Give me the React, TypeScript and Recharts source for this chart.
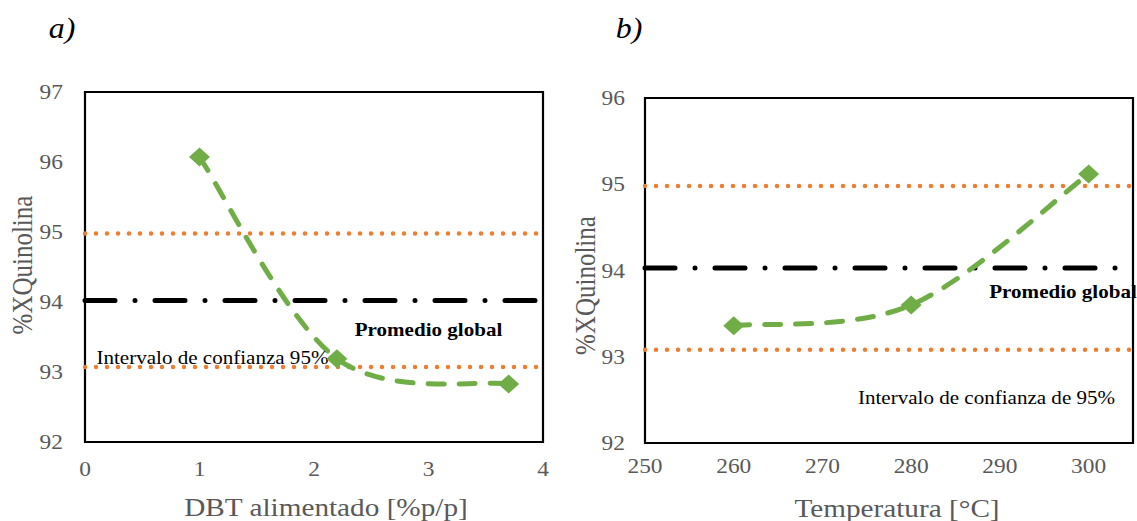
import React from 'react';
import { LineChart, Line, XAxis, YAxis, ReferenceLine, ReferenceArea, ReferenceDot } from 'recharts';

// ---- Data ----
const dbtFeed = [1.0, 2.2, 3.7];
const conversionA = [96.07, 93.19, 92.83];
const temperatures = [260, 280, 300];
const conversionB = [93.36, 93.6, 95.12];

const xDomainA = [0, 4];
const yDomainA = [92, 97];
const xDomainB = [250, 305];
const yDomainB = [92, 96];
const xTicksA = [0, 1, 2, 3, 4];
const yTicksA = [92, 93, 94, 95, 96, 97];
const xTicksB = [250, 260, 270, 280, 290, 300];
const yTicksB = [92, 93, 94, 95, 96];

const meanA = 94.02;
const ciA = [93.07, 94.98];
const meanB = 94.03;
const ciB = [93.08, 94.98];

const meanTextA = 'Promedio global';
const meanLabelPosA = [3.0, 93.6];
const ciTextA = 'Intervalo de confianza 95%';
const ciLabelPosA = [0.1, 93.2];
const meanTextB = 'Promedio global';
const meanLabelPosB = [288.8, 93.75];
const ciTextB = 'Intervalo de confianza  de 95%';
const ciLabelPosB = [274.0, 92.52];

const dataA = dbtFeed.map((x, i) => ({ x, y: conversionA[i] }));
const dataB = temperatures.map((x, i) => ({ x, y: conversionB[i] }));

// ---- Styles ----
const FONT = "'Liberation Serif', 'Times New Roman', serif";
const GRAY = '#595959';
const ORANGE = '#ED7D31';
const GREEN = '#70AD47';
const SX = 1.17;

// Excel-like smoothed line (Catmull-Rom style Bezier)
function excelCurve(context: any) {
  let pts: number[][] = [];
  return {
    areaStart() {},
    areaEnd() {},
    lineStart() {
      pts = [];
    },
    point(x: number, y: number) {
      pts.push([+x, +y]);
    },
    lineEnd() {
      const n = pts.length;
      if (n === 0) return;
      context.moveTo(pts[0][0], pts[0][1]);
      for (let i = 0; i < n - 1; i++) {
        const p0 = pts[i - 1] || pts[i];
        const p1 = pts[i];
        const p2 = pts[i + 1];
        const p3 = pts[i + 2] || pts[i + 1];
        const c1x = p1[0] + (p2[0] - p0[0]) / 6;
        const c1y = p1[1] + (p2[1] - p0[1]) / 6;
        const c2x = p2[0] - (p3[0] - p1[0]) / 6;
        const c2y = p2[1] - (p3[1] - p1[1]) / 6;
        context.bezierCurveTo(c1x, c1y, c2x, c2y, p2[0], p2[1]);
      }
    },
  };
}

function SText(props: any) {
  const { x, y, anchor = 'middle', dy = '0.35em', size = 20, weight = 'normal', fill = '#000', rotate = false, children } = props;
  const t = `translate(${x},${y}) scale(${SX},1)` + (rotate ? ' rotate(-90)' : '');
  return (
    <text transform={t} x={0} y={0} dy={dy} textAnchor={anchor} fontFamily={FONT} fontSize={size} fontWeight={weight} fill={fill}>
      {children}
    </text>
  );
}

const yTick = (p: any) => (
  <SText x={p.x} y={p.y} anchor="end" dy="0.35em" size={20} fill={GRAY}>
    {p.payload.value}
  </SText>
);
const xTick = (p: any) => (
  <SText x={p.x} y={p.y} anchor="middle" dy="0.71em" size={20} fill={GRAY}>
    {p.payload.value}
  </SText>
);

const Diamond = (p: any) => {
  const { cx, cy, index } = p;
  if (cx == null || cy == null) return null;
  const rx = 10.5;
  const ry = 9.5;
  return <path key={`d-${index}`} d={`M${cx},${cy - ry}L${cx + rx},${cy}L${cx},${cy + ry}L${cx - rx},${cy}Z`} fill={GREEN} />;
};

const xTitle = (text: string, dx: number, dyy: number) => (p: any) => {
  const vb = p.viewBox || {};
  return (
    <SText x={vb.x + vb.width / 2 + dx} y={vb.y + dyy} size={25} fill={GRAY}>
      {text}
    </SText>
  );
};

const yTitle = (text: string, xo: number, dyc: number) => (p: any) => {
  const vb = p.viewBox || {};
  return (
    <SText x={vb.x + xo} y={vb.y + vb.height / 2 + dyc} size={25} fill={GRAY} rotate>
      {text}
    </SText>
  );
};

const annot = (text: string, bold: boolean, anchor: string) => (p: any) => (
  <SText x={p.cx} y={p.cy} anchor={anchor} size={18} weight={bold ? 'bold' : 'normal'} fill="#000">
    {text}
  </SText>
);

const meanLine = { stroke: '#000', strokeWidth: 5, strokeDasharray: '30 20 0 20', strokeLinecap: 'round' as const };
const ciLine = { stroke: ORANGE, strokeWidth: 4.5, strokeDasharray: '0 11', strokeLinecap: 'round' as const };

function ChartA() {
  return (
    <LineChart width={560} height={521} data={dataA} margin={{ top: 92, right: 17, bottom: 0, left: 0 }}>
      <XAxis
        type="number"
        dataKey="x"
        domain={xDomainA}
        ticks={xTicksA}
        axisLine={false}
        tickLine={false}
        tickSize={0}
        tickMargin={20}
        height={79}
        tick={xTick}
        interval={0}
        label={{ content: xTitle('DBT alimentado [%p/p]', 12, 65) }}
      />
      <YAxis
        type="number"
        domain={yDomainA}
        ticks={yTicksA}
        axisLine={false}
        tickLine={false}
        tickSize={0}
        tickMargin={22}
        width={85}
        tick={yTick}
        interval={0}
        label={{ content: yTitle('%XQuinolina', 22, -2) }}
      />
      <ReferenceLine y={ciA[1]} {...ciLine} />
      <ReferenceLine y={ciA[0]} {...ciLine} />
      <ReferenceLine y={meanA} {...meanLine} />
      <ReferenceDot x={meanLabelPosA[0]} y={meanLabelPosA[1]} r={0} ifOverflow="visible" shape={annot(meanTextA, true, 'middle')} />
      <ReferenceDot x={ciLabelPosA[0]} y={ciLabelPosA[1]} r={0} ifOverflow="visible" shape={annot(ciTextA, false, 'start')} />
      <Line
        type={excelCurve as any}
        dataKey="y"
        stroke={GREEN}
        strokeWidth={5}
        strokeDasharray="16 15"
        strokeLinecap="round"
        dot={Diamond}
        activeDot={false}
        isAnimationActive={false}
      />
      <ReferenceArea
        x1={xDomainA[0]}
        x2={xDomainA[1]}
        y1={yDomainA[0]}
        y2={yDomainA[1]}
        fill="none"
        fillOpacity={0}
        stroke="#000"
        strokeWidth={2.2}
        strokeOpacity={1}
        ifOverflow="visible"
      />
    </LineChart>
  );
}

function ChartB() {
  return (
    <LineChart width={577} height={521} data={dataB} margin={{ top: 98, right: 4, bottom: 0, left: 0 }}>
      <XAxis
        type="number"
        dataKey="x"
        domain={xDomainB}
        ticks={xTicksB}
        axisLine={false}
        tickLine={false}
        tickSize={0}
        tickMargin={16}
        height={78}
        tick={xTick}
        interval={0}
        allowDataOverflow
        label={{ content: xTitle('Temperatura [°C]', 8, 65) }}
      />
      <YAxis
        type="number"
        domain={yDomainB}
        ticks={yTicksB}
        axisLine={false}
        tickLine={false}
        tickSize={0}
        tickMargin={20}
        width={85}
        tick={yTick}
        interval={0}
        label={{ content: yTitle('%XQuinolina', 25, 15) }}
      />
      <ReferenceLine y={ciB[1]} {...ciLine} />
      <ReferenceLine y={ciB[0]} {...ciLine} />
      <ReferenceLine y={meanB} {...meanLine} />
      <ReferenceDot x={meanLabelPosB[0]} y={meanLabelPosB[1]} r={0} ifOverflow="visible" shape={annot(meanTextB, true, 'start')} />
      <ReferenceDot x={ciLabelPosB[0]} y={ciLabelPosB[1]} r={0} ifOverflow="visible" shape={annot(ciTextB, false, 'start')} />
      <Line
        type={excelCurve as any}
        dataKey="y"
        stroke={GREEN}
        strokeWidth={5}
        strokeDasharray="16 15"
        strokeLinecap="round"
        dot={Diamond}
        activeDot={false}
        isAnimationActive={false}
      />
      <ReferenceArea
        x1={xDomainB[0]}
        x2={xDomainB[1]}
        y1={yDomainB[0]}
        y2={yDomainB[1]}
        fill="none"
        fillOpacity={0}
        stroke="#000"
        strokeWidth={2.2}
        strokeOpacity={1}
        ifOverflow="visible"
      />
    </LineChart>
  );
}

const panelTitle = (left: number): React.CSSProperties => ({
  position: 'absolute',
  left,
  top: 28,
  transform: 'translate(-50%, -50%) scaleX(1.1)',
  fontFamily: FONT,
  fontStyle: 'italic',
  fontSize: 29,
  lineHeight: '34px',
  color: '#000',
  whiteSpace: 'nowrap',
});

export default function App() {
  return (
    <div style={{ position: 'absolute', left: 0, top: 0, width: 1137, height: 521, background: '#fff', overflow: 'hidden' }}>
      <div style={{ position: 'absolute', left: 0, top: 0 }}>
        <ChartA />
      </div>
      <div style={{ position: 'absolute', left: 560, top: 0 }}>
        <ChartB />
      </div>
      <div style={panelTitle(62)}>a)</div>
      <div style={panelTitle(629)}>b)</div>
    </div>
  );
}
